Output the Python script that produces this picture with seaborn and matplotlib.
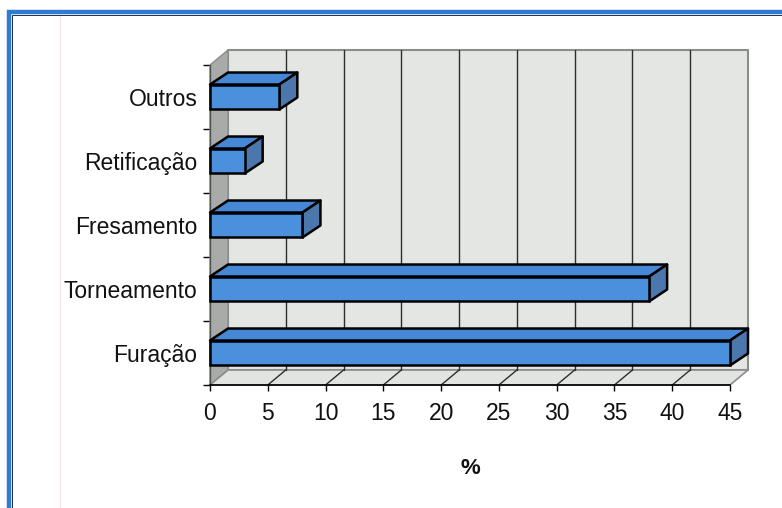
import numpy as np
import pandas as pd
import matplotlib
matplotlib.use("Agg")
import matplotlib.pyplot as plt
import seaborn as sns
from matplotlib.patches import Polygon, Rectangle
from matplotlib.lines import Line2D
from matplotlib.transforms import IdentityTransform

# ---- data ----
categories = ["Outros", "Retificação", "Fresamento", "Torneamento", "Furação"]
values = [6, 3, 8, 38, 45]
x_ticks = [0, 5, 10, 15, 20, 25, 30, 35, 40, 45]
x_label = "%"

sns.set_style("white")
plt.rcParams["font.family"] = ["Liberation Sans", "DejaVu Sans"]

W_PX, H_PX, DPI = 782, 508, 100
fig = plt.figure(figsize=(W_PX / DPI, H_PX / DPI), dpi=DPI)
fig.patch.set_facecolor("white")

ax = fig.add_axes([210 / W_PX, 1 - 385 / H_PX, 520 / W_PX, 320 / H_PX])
ax.patch.set_visible(False)

df = pd.DataFrame({"categoria": categories, "valor": values})
front_col = "#4a90dd"
top_col = "#4687d6"
side_col = "#4b77ad"
sns.barplot(data=df, x="valor", y="categoria", orient="h", color=front_col,
            width=0.39, edgecolor="black", linewidth=1.8, saturation=1,
            ax=ax, zorder=10)

ax.set_xlim(x_ticks[0], x_ticks[-1])
ax.set_ylim(len(categories) - 0.5, -0.5)

# ---- 3D decoration derived from axes transforms ----
ident = IdentityTransform()
WALL = np.array([18.0, 15.0])
BAR = np.array([18.0, 12.0])


def D(x, y):
    return ax.transData.transform((x, y))


def add_poly(pts, fc, ec, lw, z):
    ax.add_artist(Polygon(pts, closed=True, transform=ident, facecolor=fc,
                          edgecolor=ec, lw=lw, zorder=z, clip_on=False,
                          joinstyle="round"))


def add_line(a, b, color, lw, z):
    ax.add_artist(Line2D([a[0], b[0]], [a[1], b[1]], transform=ident,
                         color=color, lw=lw, zorder=z, clip_on=False))


xmin, xmax = x_ticks[0], x_ticks[-1]
ybot, ytop = len(categories) - 0.5, -0.5

# back wall
add_poly([D(xmin, ybot) + WALL, D(xmax, ybot) + WALL, D(xmax, ytop) + WALL,
          D(xmin, ytop) + WALL], "#e4e6e3", "#8c8c8c", 1.5, 0.5)
# left wall
add_poly([D(xmin, ybot), D(xmin, ytop), D(xmin, ytop) + WALL, D(xmin, ybot) + WALL],
         "#a9aba8", "#8c8c8c", 1.0, 0.6)
# floor
add_poly([D(xmin, ybot), D(xmax, ybot), D(xmax, ybot) + WALL, D(xmin, ybot) + WALL],
         "#e2e4e1", "#8c8c8c", 1.2, 0.7)
# gridlines on back wall and floor
for v in x_ticks[1:-1]:
    a = D(v, ybot) + WALL
    b = D(v, ytop) + WALL
    add_line(a, b, "#2e2e2e", 1.0, 0.8)
    add_line(D(v, ybot), a, "#2e2e2e", 1.0, 0.8)

# bar top and side faces
for p in ax.patches:
    if not isinstance(p, Rectangle):
        continue
    bb = p.get_bbox()
    x0, x1 = bb.x0, bb.x1
    yt, yb = min(bb.y0, bb.y1), max(bb.y0, bb.y1)
    ftl, ftr, fbr = D(x0, yt), D(x1, yt), D(x1, yb)
    add_poly([ftl, ftr, ftr + BAR, ftl + BAR], top_col, "black", 1.8, 3)
    add_poly([ftr, fbr, fbr + BAR, ftr + BAR], side_col, "black", 1.8, 3)
    p.set_clip_on(False)

# ---- axes styling ----
for s in ["top", "right"]:
    ax.spines[s].set_visible(False)
ax.spines["left"].set_color("#505050")
ax.spines["left"].set_linewidth(1.0)
ax.spines["bottom"].set_color("black")
ax.spines["bottom"].set_linewidth(1.2)

ax.set_xticks(x_ticks)
ax.set_xticklabels([str(t) for t in x_ticks])
ax.tick_params(axis="x", direction="out", length=4.5, width=1.0, color="black",
               pad=8, labelsize=16.5, labelcolor="#111111", bottom=True)
ax.set_yticks(range(len(categories)))
ax.set_yticklabels(categories)
ax.tick_params(axis="y", which="major", length=0, pad=9, labelsize=16.5,
               labelcolor="#111111", left=True)
ax.set_yticks(np.arange(-0.5, len(categories), 1.0), minor=True)
ax.tick_params(axis="y", which="minor", direction="out", length=5, width=1.0,
               color="black", left=True)

ax.set_ylabel("")
ax.set_xlabel(x_label, fontsize=16, fontweight="bold", color="#111111")
ax.xaxis.set_label_coords(0.5, (385 - 469) / 320)
ax.xaxis.label.set_va("center")

# ---- outer frame ----
fig.add_artist(Line2D([60 / W_PX, 60 / W_PX], [0, 1 - 14 / H_PX], transform=fig.transFigure,
                      color="#f6e4e4", lw=0.8, zorder=0))
fig.add_artist(Rectangle((9 / W_PX, -0.2), 1.3, 0.2 + (1 - 12 / H_PX),
                         transform=fig.transFigure, fill=False, edgecolor="#2f7bd3",
                         lw=3.2, zorder=20, clip_on=False))
fig.add_artist(Rectangle((11.5 / W_PX, -0.2), 1.3, 0.2 + (1 - 14.5 / H_PX),
                         transform=fig.transFigure, fill=False, edgecolor="#1c2f5a",
                         lw=0.7, zorder=21, clip_on=False))

fig.savefig("out.png", dpi=DPI, facecolor="white")
